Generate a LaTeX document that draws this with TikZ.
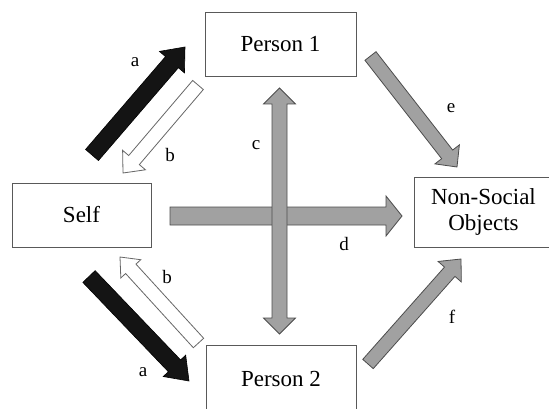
\documentclass[tikz,border=0pt]{standalone}
\usepackage{fontspec}
\setmainfont{Liberation Serif}
\usetikzlibrary{calc}
\newcommand\blockarrow[7]{% name, style, from, to, half shaft, half head, head length
  \coordinate (#1hb) at ($(#4)!#7!(#3)$);
  \draw[#2] ($(#3)!#5!90:(#4)$) -- ($(#1hb)!#5!90:(#4)$) -- ($(#1hb)!#6!90:(#4)$) -- (#4)
    -- ($(#1hb)!#6!-90:(#4)$) -- ($(#1hb)!#5!-90:(#4)$) -- ($(#3)!#5!-90:(#4)$) -- cycle;
}
\newcommand\dblblockarrow[7]{%
  \coordinate (#1ha) at ($(#3)!#7!(#4)$);
  \coordinate (#1hb) at ($(#4)!#7!(#3)$);
  \draw[#2] (#3) -- ($(#1ha)!#6!90:(#4)$) -- ($(#1ha)!#5!90:(#4)$) -- ($(#1hb)!#5!-90:(#3)$)
    -- ($(#1hb)!#6!-90:(#3)$) -- (#4) -- ($(#1hb)!#6!90:(#3)$) -- ($(#1hb)!#5!90:(#3)$)
    -- ($(#1ha)!#5!-90:(#4)$) -- ($(#1ha)!#6!-90:(#4)$) -- cycle;
}
\begin{document}
\begin{tikzpicture}[x=1pt,y=-1pt,
  box/.style={draw=black!65,line width=0.8pt,rectangle,inner sep=0pt,align=center,
    font=\fontsize{23}{26}\selectfont},
  lbl/.style={font=\fontsize{19}{22}\selectfont,inner sep=0pt},
  blackarrow/.style={fill=black!92,draw=black,line width=0.6pt,line join=miter},
  whitearrow/.style={fill=white,draw=black!60,line width=0.8pt,line join=miter},
  grayarrow/.style={fill=black!37,draw=black!70,line width=0.8pt,line join=miter}]
\useasboundingbox (0,0) rectangle (549,409);
\clip (0,0) rectangle (549,409);
% boxes
\node[box,minimum width=151pt,minimum height=64pt] (p1) at (280.5,44) {Person 1};
\node[box,minimum width=139pt,minimum height=64pt] (self) at (81.5,215) {Self};
\node[box,minimum width=139pt,minimum height=70pt] (nso) at (483.5,212) {Non-Social\\Objects};
\node[box,minimum width=150pt,minimum height=68pt] (p2) at (281,379) {Person 2};
% arrow end points
\coordinate (a1s) at (92,155);   \coordinate (a1e) at (185,47);
\coordinate (b1s) at (198,85);   \coordinate (b1e) at (123,173);
\coordinate (cs) at (279.5,88);  \coordinate (ce) at (279.5,334);
\coordinate (ds) at (170,216);   \coordinate (de) at (402,216);
\coordinate (es) at (370.5,56);  \coordinate (ee) at (457,167);
\coordinate (fs) at (368,364);   \coordinate (fe) at (461,259);
\coordinate (a2s) at (89,276.5); \coordinate (a2e) at (189,381);
\coordinate (b2s) at (198.5,343);\coordinate (b2e) at (120,257);
% arrows
\blockarrow{a1}{blackarrow}{a1s}{a1e}{8.5pt}{16.5pt}{20pt}
\blockarrow{b1}{whitearrow}{b1s}{b1e}{7pt}{15pt}{17pt}
\blockarrow{d}{grayarrow}{ds}{de}{9pt}{20pt}{16pt}
\dblblockarrow{c}{grayarrow}{cs}{ce}{7.5pt}{16pt}{16pt}
\blockarrow{e}{grayarrow}{es}{ee}{7pt}{15.5pt}{16pt}
\blockarrow{f}{grayarrow}{fs}{fe}{7pt}{15.5pt}{17pt}
\blockarrow{a2}{blackarrow}{a2s}{a2e}{8.5pt}{15.5pt}{21pt}
\blockarrow{b2}{whitearrow}{b2s}{b2e}{7pt}{13.5pt}{16pt}
% labels
\node[lbl] (la1) at (135,62) {a};
\node[lbl] (lb1) at (170,155) {b};
\node[lbl] (lc) at (256,145) {c};
\node[lbl] (le) at (451,108) {e};
\node[lbl] (ld) at (344,244) {d};
\node[lbl] (lf) at (452,317) {f};
\node[lbl] (lb2) at (167,277) {b};
\node[lbl] (la2) at (143,372) {a};
\end{tikzpicture}
\end{document}
